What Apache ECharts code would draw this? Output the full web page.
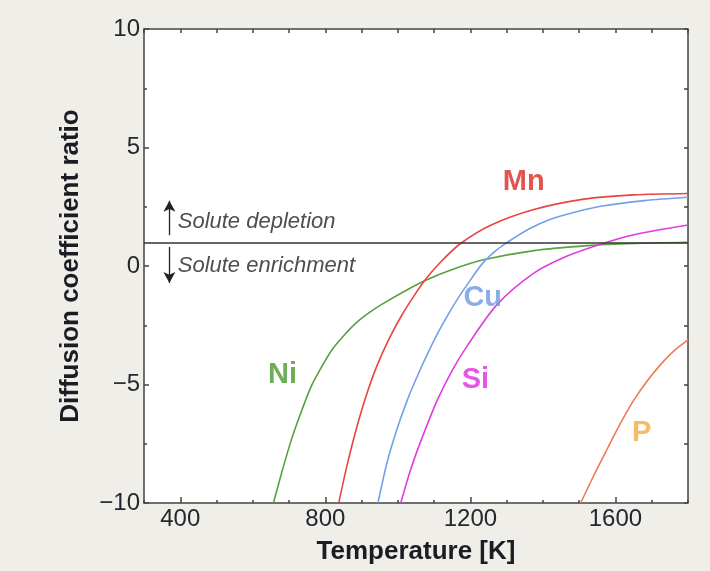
<!DOCTYPE html>
<html>
<head>
<meta charset="utf-8">
</head>
<body style="margin: 0; background: #efeee8">
<div id="container" style="width: 710px; height: 571px"></div>
<script type="text/javascript" src="https://cdn.jsdelivr.net/npm/echarts@6/dist/echarts.min.js"></script>
<script type="text/javascript">
// curves: [temperature K, ratio]
var niData = [[657,-10],[680,-8.7],[705,-7.4],[730,-6.3],[759,-5.15],[790,-4.25],[820,-3.5],[850,-2.95],[885,-2.4],[920,-1.98],[952,-1.65],[1026,-1.0],[1077,-0.6],[1150,-0.15],[1233,0.25],[1375,0.65],[1523,0.86],[1650,0.95],[1800,1.0]];
var mnData = [[837,-10],[860,-8.4],[885,-6.9],[910,-5.6],[940,-4.3],[975,-3.1],[1010,-2.1],[1045,-1.25],[1077,-0.55],[1120,0.2],[1173,0.95],[1256,1.72],[1375,2.38],[1513,2.82],[1650,3.0],[1800,3.06]];
var cuData = [[945,-10],[970,-8.3],[995,-7.0],[1025,-5.7],[1055,-4.6],[1085,-3.6],[1120,-2.55],[1160,-1.5],[1195,-0.7],[1233,0.1],[1270,0.65],[1302,1.0],[1360,1.55],[1421,1.97],[1490,2.28],[1559,2.52],[1680,2.76],[1800,2.9]];
var siData = [[1008,-10],[1035,-8.6],[1063,-7.4],[1109,-5.65],[1150,-4.4],[1192,-3.35],[1274,-1.62],[1375,-0.3],[1467,0.42],[1559,0.92],[1651,1.32],[1800,1.73]];
var pData = [[1504,-10],[1540,-8.85],[1578,-7.7],[1615,-6.6],[1651,-5.65],[1690,-4.8],[1725,-4.15],[1760,-3.6],[1800,-3.12]];

var xLabels = [400, 800, 1200, 1600];
var refRatio = 1;

var curveNames = ['Ni', 'Mn', 'Cu', 'Si', 'P'];
var curveData = [niData, mnData, cuData, siData, pData];
var lineColors = ['#58a040', '#e84444', '#73a0ea', '#e03ce0', '#f07a50'];
var textColors = ['#4a9a30', '#d92a22', '#6d98e2', '#e02ce0', '#f4aa40'];
var namePos = [[682,-4.6],[1347,3.54],[1234,-1.35],[1214,-4.81],[1672,-7.05]];

var noteText = ['Solute depletion', 'Solute enrichment'];
var notePos = [[393,1.86],[393,0.0]];

var dom = document.getElementById('container');
var myChart = echarts.init(dom);

var tickFont = {fontFamily: 'Liberation Sans', fontSize: 24, color: '#262630'};

var series = [];
for (var i = 0; i < curveData.length; i++) {
    series.push({
        name: curveNames[i],
        type: 'line',
        data: curveData[i],
        showSymbol: false,
        smooth: 0.3,
        lineStyle: {color: lineColors[i], width: 1.6},
        z: 3
    });
}

// element names on the chart
series.push({
    type: 'scatter',
    symbolSize: 0,
    silent: true,
    data: namePos.map(function (p, i) {
        return {
            value: p,
            label: {
                show: true,
                formatter: curveNames[i],
                position: 'inside',
                color: textColors[i],
                fontFamily: 'Liberation Sans',
                fontWeight: 'bold',
                fontSize: 29
            }
        };
    }),
    z: 4
});

// depletion / enrichment notes with their arrows
series.push({
    type: 'scatter',
    symbolSize: 0,
    silent: true,
    data: notePos.map(function (p, i) {
        return {
            value: p,
            label: {
                show: true,
                formatter: noteText[i],
                position: 'right',
                distance: 0,
                color: '#222',
                fontFamily: 'Liberation Sans',
                fontStyle: 'italic',
                fontSize: 22
            }
        };
    }),
    markLine: {
        silent: true,
        symbol: ['none', 'arrow'],
        symbolSize: [9, 11],
        label: {show: false},
        lineStyle: {color: '#222', width: 1.3, type: 'solid'},
        data: [
            [{coord: [370, 1.3]}, {coord: [370, 2.75]}],
            [{coord: [370, 0.8]}, {coord: [370, -0.72]}]
        ]
    },
    z: 2
});

// ratio = 1 line
series.push({
    type: 'line',
    data: [],
    markLine: {
        silent: true,
        symbol: ['none', 'none'],
        label: {show: false},
        lineStyle: {color: '#333', width: 1.6, type: 'solid'},
        data: [{yAxis: refRatio}]
    },
    z: 2
});

function axisBase(extra) {
    return Object.assign({
        type: 'value',
        axisLine: {show: false, onZero: false},
        splitLine: {show: false}
    }, extra);
}

option = {
    backgroundColor: '#efeee8',
    animation: false,
    grid: {
        left: 144, right: 22, top: 29, bottom: 68,
        show: true,
        backgroundColor: '#ffffff',
        borderColor: '#444',
        borderWidth: 1.5
    },
    xAxis: [axisBase({
        min: 300, max: 1800,
        position: 'bottom',
        name: 'Temperature [K]',
        nameLocation: 'middle',
        nameGap: 36,
        nameTextStyle: {fontFamily: 'Liberation Sans', fontWeight: 'bold', fontSize: 26, color: '#1c1c24'},
        axisTick: {inside: true, length: 6, customValues: xLabels, lineStyle: {color: '#444', width: 1.5}},
        axisLabel: Object.assign({customValues: xLabels, margin: 4, formatter: function (v) { return String(v); }}, tickFont)
    }), axisBase({
        min: 300, max: 1800, interval: 100,
        position: 'bottom',
        axisLabel: {show: false},
        axisTick: {inside: true, length: 3, lineStyle: {color: '#444', width: 1.5}}
    }), axisBase({
        min: 300, max: 1800, interval: 100,
        position: 'top',
        axisLabel: {show: false},
        axisTick: {inside: true, length: 4, lineStyle: {color: '#444', width: 1.5}}
    })],
    yAxis: [axisBase({
        min: -10, max: 10, interval: 5,
        position: 'left',
        name: 'Diffusion coefficient ratio',
        nameLocation: 'middle',
        nameGap: 60,
        nameTextStyle: {fontFamily: 'Liberation Sans', fontWeight: 'bold', fontSize: 26, color: '#1c1c24'},
        axisTick: {inside: true, length: 5, lineStyle: {color: '#444', width: 1.5}},
        minorTick: {show: true, splitNumber: 2, length: 3, lineStyle: {color: '#444', width: 1.5}},
        axisLabel: Object.assign({margin: 4, formatter: function (v) { return v < 0 ? '\u2212' + (-v) : String(v); }}, tickFont)
    }), axisBase({
        min: -10, max: 10, interval: 2.5,
        position: 'right',
        axisLabel: {show: false},
        axisTick: {inside: true, length: 4, lineStyle: {color: '#444', width: 1.5}}
    })],
    series: series
};

if (option && typeof option === 'object') {
    myChart.setOption(option, true);
}
</script>
</body>
</html>
